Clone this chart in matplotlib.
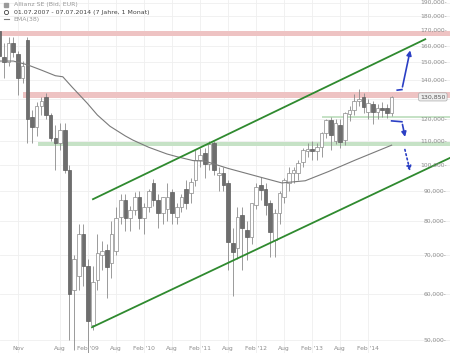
import matplotlib
matplotlib.use("Agg")
import matplotlib.pyplot as plt
from matplotlib.ticker import NullLocator

# monthly candles Jul 2007 .. Jul 2014, prices in EUR
opens = [170, 153, 150, 162, 155, 141, 164, 121, 116, 126, 131, 121.6, 111, 109, 115, 98, 61, 64.5, 76, 67,
         53, 63.3, 70, 71.3, 67.7, 71, 81.4, 87, 81, 83.6, 88, 81, 84.6, 93, 87, 82.6, 84, 89.9, 81.4, 84.6,
         91, 89.5, 94, 102, 105, 100.5, 108.9, 96, 97, 93, 73.4, 72, 82, 77.2, 75.1, 85.3, 92.3, 91, 85.9, 74.2,
         82.6, 88, 93, 96.7, 96.7, 101, 105.5, 106.5, 105.5, 107.5, 113.5, 119.4, 110, 117, 110.3, 122.5, 124.2,
         128.7, 131, 123.5, 127, 123.5, 125, 125, 122.8]
highs = [176, 162, 166, 166, 157, 151, 166, 124, 128, 131, 133, 123, 117, 118, 118, 100, 70, 79, 79, 69,
         67, 76, 74, 73, 80, 84.6, 89, 89, 85, 89.9, 90, 86, 91, 94.5, 89, 88, 93, 91, 86, 89,
         94, 95, 106, 107, 107, 110, 110, 99, 99, 94, 78, 84.6, 84.6, 80, 86, 93, 95.2, 93, 87, 84,
         90, 95, 99, 99, 102, 107, 109, 110, 109, 114, 120, 121, 120, 120, 123.5, 126, 132.6,
         135, 133, 130, 129, 127, 128, 127, 131.5]
lows = [150, 141, 148, 153, 132, 138, 109, 109, 112, 122, 120, 110, 98, 106, 97, 50, 48, 61, 62, 47.5,
        52, 61, 66, 59, 64, 70, 79, 77, 77, 82, 77.5, 76, 83, 85, 78, 79, 80, 79, 79, 83,
        84, 86, 92, 99, 95, 98, 96, 90, 90, 66, 59.5, 69, 66, 68.6, 73, 84, 87, 82, 69.4, 69.4,
        79, 86, 90, 93, 94, 99, 103, 102, 102, 103, 111, 106, 108.5, 107, 108, 119, 122,
        126, 122.7, 120, 117.5, 120, 121, 120.5, 121.5]
closes = [154, 150, 162, 156, 141, 148, 120, 116, 126, 129, 121.6, 111, 109, 115, 98, 60, 69, 76, 67, 54,
          63, 70.5, 71, 66.7, 76, 81, 87, 81, 83.6, 88, 81, 84.6, 90, 87, 82.6, 88, 88, 82.6, 84.6, 88,
          86, 93.4, 102, 104, 100.5, 108.5, 97.9, 97, 92.3, 73.6, 70.8, 81.4, 77.8, 75.1, 85.9, 91.6, 90.5, 85.3, 76.6, 82.6,
          89.4, 94, 96.7, 98, 100.7, 106, 106.5, 105.5, 107.3, 113.4, 119.4, 112.5, 118, 109.5, 122.8, 124.2, 128.7,
          130, 125.5, 127.5, 123.5, 125, 124, 122.7, 130.85]

# moving average
ma_months = [0, 3, 6, 9, 12, 13.6, 15.6, 18.8, 21, 23.7, 27, 28.6, 32, 35.9, 38, 41.5, 44, 49, 56, 60.5,
             65.5, 70.5, 76.2, 84]
ma_values = [150.8, 150.8, 148.6, 145.5, 142.3, 141.7, 136.0, 127.7, 121.8, 116.5, 112.1, 110.3, 107.2, 104.4,
             103.3, 101.7, 101.5, 98.6, 95.2, 93.1, 93.9, 97.4, 101.9, 108.1]

price_levels = [50, 60, 70, 80, 90, 100, 110, 120, 130, 140, 150, 160, 170, 180, 190]
month_ticks = [4, 13, 19, 25, 31, 37, 43, 49, 55, 61, 67, 73, 79]
month_labels = ["Nov", "Aug", "Feb '09", "Aug", "Feb '10", "Aug", "Feb '11", "Aug",
                "Feb '12", "Aug", "Feb '13", "Aug", "Feb '14"]

# zones: (low, high, first month)
red_zones = [(166.5, 170.1, 0), (130.2, 133.4, 5)]
green_zones = [(107.7, 109.4, 8.3), (120.3, 121.3, 69.1)]

# trend channel (month, price)
upper_x, upper_y = [20.06, 91.2], [87.3, 164.4]
lower_x, lower_y = [19.85, 96.5], [52.6, 102.8]

last_price = 130.85

X_MAX = 96.5
GRID = "#efefef"
TXT = "#8c8c8c"
BLUE = "#2b3fc4"
GREEN = "#2f8a2f"


def fmt(v):
    return f"{v:,.3f}".replace(",", " ").replace(".", ",").replace(" ", ".")


fig = plt.figure(figsize=(4.5, 3.53), dpi=100)
ax = fig.add_axes([0, 0, 1, 1])
ax.set_yscale("log")
ax.set_ylim(47.5, 192)
ax.set_xlim(0.15, X_MAX)
ax.yaxis.set_minor_locator(NullLocator())
ax.set_xticks([])
ax.set_yticks([])
for s in ax.spines.values():
    s.set_visible(False)

# grid
for lv in price_levels:
    ax.axhline(lv, color=GRID, lw=0.6, zorder=0)
for m in month_ticks:
    ax.axvline(m, color=GRID, lw=0.6, zorder=0)

# zones
for lo, hi, x0 in red_zones:
    ax.fill_between([x0, X_MAX], lo, hi, color="#eec3c3", lw=0, zorder=1)
for lo, hi, x0 in green_zones:
    ax.fill_between([x0, X_MAX], lo, hi, color="#c6e2c6", lw=0, zorder=1)

# candles
idx = range(len(opens))
ax.vlines(idx, lows, highs, color="#8a8a8a", lw=0.6, zorder=2)
for i in idx:
    o, c = opens[i], closes[i]
    if c >= o:
        ax.bar(i, c - o, bottom=o, width=0.78, color="white", edgecolor="#8a8a8a", lw=0.5, zorder=3)
    else:
        ax.bar(i, o - c, bottom=c, width=0.78, color="#6e6e6e", edgecolor="#5e5e5e", lw=0.5, zorder=3)

# moving average
ax.plot(ma_months, ma_values, color="#7a7a7a", lw=0.8, zorder=4)

# channel
ax.plot(upper_x, upper_y, color=GREEN, lw=1.3, zorder=5)
ax.plot(lower_x, lower_y, color=GREEN, lw=1.3, zorder=5)

# arrows
ax.plot([85.2, 86.2], [134.4, 134.7], color=BLUE, lw=1.2, zorder=6)
ax.annotate("", xy=(88.1, 159), xytext=(86.2, 134.7),
            arrowprops=dict(arrowstyle="-|>", color=BLUE, lw=1.2, mutation_scale=7), zorder=6)
ax.plot([84.0, 86.2], [119.0, 118.6], color=BLUE, lw=1.2, zorder=6)
ax.annotate("", xy=(87.0, 110.5), xytext=(86.2, 118.6),
            arrowprops=dict(arrowstyle="-|>", color=BLUE, lw=1.2, mutation_scale=7), zorder=6)
ax.annotate("", xy=(88.1, 96.5), xytext=(86.7, 107.4),
            arrowprops=dict(arrowstyle="-|>", color=BLUE, lw=1.2, ls=":", mutation_scale=7), zorder=6)

# price labels on the right (the one under the last-price box is hidden)
ytr = ax.get_yaxis_transform()
for lv in price_levels:
    if abs(lv - last_price) / last_price < 0.03:
        continue
    ax.text(0.993, lv, fmt(lv) + "-", transform=ytr, ha="right", va="center",
            fontsize=4.3, color=TXT, zorder=7)
ax.text(0.99, last_price, fmt(last_price), transform=ytr, ha="right", va="center",
        fontsize=4.5, color="#555555", zorder=9,
        bbox=dict(boxstyle="round,pad=0.25", fc="#eeeeee", ec="#aaaaaa", lw=0.5))

# month labels
xtr = ax.get_xaxis_transform()
for m, lab in zip(month_ticks, month_labels):
    ax.text(m, 0.012, lab, transform=xtr, ha="center", va="center", fontsize=4.3, color=TXT)

# header
ax.text(0.03, 0.986, "Allianz SE (Bid, EUR)", transform=ax.transAxes, fontsize=4.5,
        color="#9a9a9a", va="center")
ax.text(0.03, 0.966, "01.07.2007 - 07.07.2014 (7 Jahre, 1 Monat)", transform=ax.transAxes,
        fontsize=4.5, color="#444444", va="center")
ax.text(0.03, 0.946, "EMA(38)", transform=ax.transAxes, fontsize=4.5, color="#9a9a9a", va="center")
ax.plot([0.013], [0.966], marker="o", ms=3, mfc="white", mec="#444444", mew=0.6,
        transform=ax.transAxes)
ax.plot([0.008, 0.02], [0.946, 0.946], color="#7a7a7a", lw=0.8, transform=ax.transAxes)
ax.plot([0.013], [0.986], marker="s", ms=2.5, color="#9a9a9a", transform=ax.transAxes)

fig.savefig("out.png", dpi=100)
